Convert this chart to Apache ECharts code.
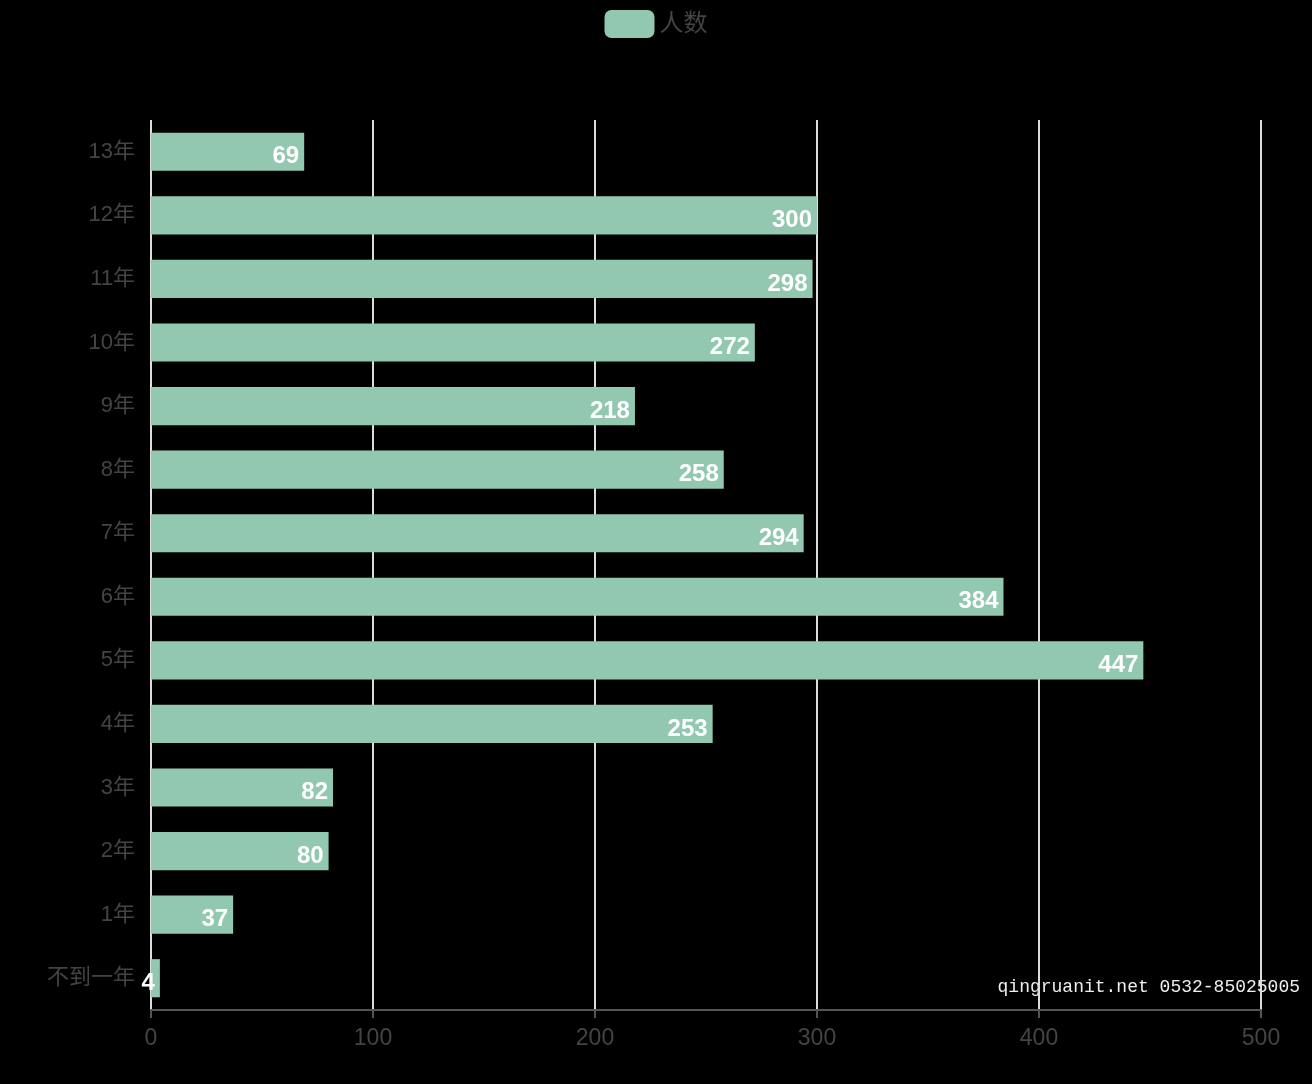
<!DOCTYPE html>
<html>
<head>
<meta charset="utf-8">
<script src="https://cdn.jsdelivr.net/npm/echarts@6/dist/echarts.min.js"></script>
<style>
  html, body { margin: 0; padding: 0; background: #000; }
  #main { width: 1312px; height: 1084px; }
</style>
</head>
<body>
<div id="main"></div>
<script>
// 工龄分布
var categories = ['不到一年', '1年', '2年', '3年', '4年', '5年', '6年', '7年', '8年', '9年', '10年', '11年', '12年', '13年']
var counts = [4, 37, 80, 82, 253, 447, 384, 294, 258, 218, 272, 298, 300, 69]
var xTicks = [0, 100, 200, 300, 400, 500]

var chart = echarts.init(document.getElementById('main'))
chart.setOption({
  backgroundColor: '#000',
  animation: false,
  textStyle: { fontFamily: '"Liberation Sans", "Noto Sans CJK SC", sans-serif' },
  legend: {
    data: ['人数'],
    top: 5,
    itemWidth: 50,
    itemHeight: 28,
    itemGap: 10,
    icon: 'roundRect',
    textStyle: { color: '#444', fontSize: 24 }
  },
  grid: {
    top: 120,
    left: 151,
    right: 51,
    bottom: 74
  },
  xAxis: {
    type: 'value',
    min: xTicks[0],
    max: xTicks[xTicks.length - 1],
    interval: 100,
    axisLine: { show: true, lineStyle: { color: '#555', width: 2 } },
    axisTick: { show: true, length: 8, lineStyle: { color: '#555', width: 2 } },
    axisLabel: { color: '#444', fontSize: 23, margin: 17 },
    splitLine: { show: true, lineStyle: { color: '#ddd', width: 2 } }
  },
  yAxis: {
    type: 'category',
    data: categories,
    axisLine: { show: false },
    axisTick: { show: false },
    axisLabel: { color: '#444', fontSize: 22, margin: 16, padding: [4, 0, 0, 0] }
  },
  series: [{
    name: '人数',
    type: 'bar',
    data: counts,
    barWidth: '60%',
    itemStyle: { color: '#93c8b0' },
    label: {
      show: true,
      position: 'insideRight',
      color: '#fff',
      fontSize: 24,
      fontWeight: 'bold',
      offset: [0, 5]
    }
  }],
  graphic: [{
    type: 'text',
    right: 12,
    top: 978,
    z: -1,
    style: {
      text: 'qingruanit.net 0532-85025005',
      fill: '#eee',
      font: '18px "Liberation Mono", monospace'
    }
  }]
})
</script>
</body>
</html>
